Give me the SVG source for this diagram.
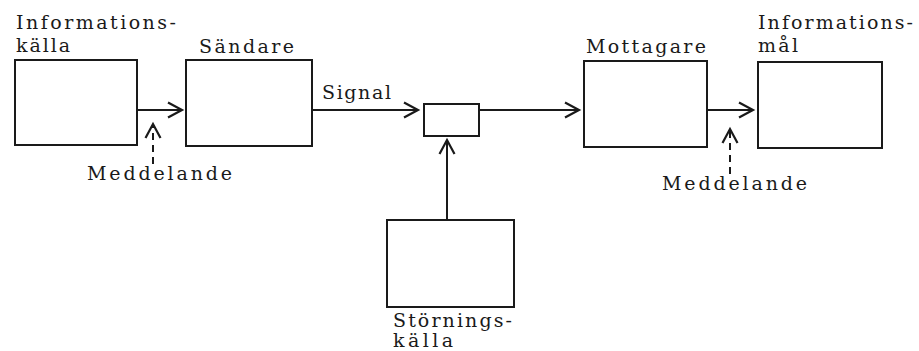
<svg xmlns="http://www.w3.org/2000/svg" width="919" height="351" viewBox="0 0 919 351">
<defs>
<style>
.box{fill:#fff;stroke:#1a1a1a;stroke-width:2}
.ln{fill:none;stroke:#1a1a1a;stroke-width:2}
.dash{fill:none;stroke:#1a1a1a;stroke-width:2;stroke-dasharray:7,5}
text{font-family:"DejaVu Serif","Liberation Serif",serif;font-size:19px;fill:#1a1a1a}
</style>
<marker id="ah" markerUnits="userSpaceOnUse" markerWidth="18" markerHeight="18" refX="15" refY="9" orient="auto" viewBox="0 0 18 18">
<path d="M1,1.5 L15,9 L1,16.5" fill="none" stroke="#1a1a1a" stroke-width="2.2"/>
</marker>
</defs>
<rect width="919" height="351" fill="#fff"/>
<g id="informationskalla">
<rect class="box" x="15" y="60" width="122" height="85"/>
<text x="16" y="29" textLength="160" lengthAdjust="spacing">Informations-</text>
<text x="16" y="52" textLength="54" lengthAdjust="spacing">källa</text>
</g>
<g id="sandare">
<rect class="box" x="186" y="60" width="126" height="86"/>
<text x="199" y="53" textLength="95" lengthAdjust="spacing">Sändare</text>
</g>
<g id="kanal">
<rect class="box" x="424" y="104" width="55" height="32"/>
</g>
<g id="mottagare">
<rect class="box" x="584" y="61" width="123" height="86"/>
<text x="586" y="53" textLength="120" lengthAdjust="spacing">Mottagare</text>
</g>
<g id="informationsmal">
<rect class="box" x="758" y="62" width="124" height="86"/>
<text x="758" y="29" textLength="155" lengthAdjust="spacing">Informations-</text>
<text x="758" y="52" textLength="40" lengthAdjust="spacing">mål</text>
</g>
<g id="storningskalla">
<rect class="box" x="387" y="220" width="127" height="87"/>
<text x="393" y="327" textLength="119" lengthAdjust="spacing">Störnings-</text>
<text x="393" y="347" textLength="60" lengthAdjust="spacing">källa</text>
</g>
<g id="connectors">
<line class="ln" x1="137" y1="110" x2="182" y2="110" marker-end="url(#ah)"/>
<line class="dash" x1="153" y1="164" x2="153" y2="124" marker-end="url(#ah)"/>
<text x="87" y="180" textLength="145" lengthAdjust="spacing">Meddelande</text>
<line class="ln" x1="312" y1="110" x2="418" y2="110" marker-end="url(#ah)"/>
<text x="322" y="99" textLength="69" lengthAdjust="spacing">Signal</text>
<line class="ln" x1="479" y1="110" x2="579" y2="110" marker-end="url(#ah)"/>
<line class="ln" x1="447" y1="220" x2="447" y2="140" marker-end="url(#ah)"/>
<line class="ln" x1="707" y1="110" x2="753" y2="110" marker-end="url(#ah)"/>
<line class="dash" x1="730" y1="174" x2="730" y2="129" marker-end="url(#ah)"/>
<text x="662" y="190" textLength="145" lengthAdjust="spacing">Meddelande</text>
</g>
</svg>
